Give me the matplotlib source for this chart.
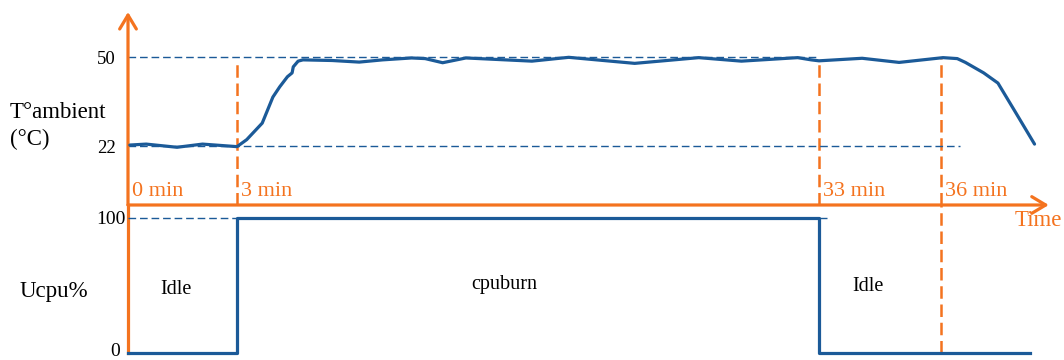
import numpy as np
import matplotlib.pyplot as plt

plt.rcParams['font.family'] = ['Liberation Serif', 'DejaVu Serif']

orange = '#f4731f'
blue = '#1b5a98'

# schematic time axis: the segments are not drawn to the same scale
t_knots = [-5, 0, 3, 33, 36, 45]
u_knots = [-181.7, 0, 109, 691, 813, 1179]


def fwd(t):
    return np.interp(t, t_knots, u_knots)


def inv(u):
    return np.interp(u, u_knots, t_knots)


# temperature (minutes, degC)
temp_t = [0.05, 0.5, 1.35, 2.05, 3.0, 3.5, 4.3, 4.85, 5.2, 5.6, 5.84, 5.9, 6.15,
          6.4, 7.9, 9.3, 10.5, 12.0, 12.7, 13.6, 14.8, 16.5, 18.2, 20.1, 23.5,
          26.8, 29.0, 31.9, 32.6, 33.0, 34.06, 34.97, 36.05, 36.4, 36.6, 37.05,
          37.4, 37.8, 38.3]
temp_c = [22.3, 22.6, 21.6, 22.6, 21.8, 24.0, 29.2, 37.4, 40.6, 43.8, 45.0, 46.9, 48.7,
          49.1, 48.9, 48.4, 49.1, 49.7, 49.5, 48.2, 49.7, 49.2, 48.7, 49.9, 48.0,
          49.8, 48.7, 49.8, 49.1, 48.8, 49.6, 48.3, 49.8, 49.5, 48.3, 45.0,
          41.8, 33.3, 22.6]

# cpu load (steps)
cpu_t = [0, 3, 33, 38.2]
cpu_u = [0, 100, 0, 0]

marks_t = [0, 3, 33, 36]
marks_lbl = ['0 min', '3 min', '33 min', '36 min']
t_levels = [22, 50]

W, H = 1064, 360
fig = plt.figure(figsize=(W / 100, H / 100), dpi=100)
ax_t = fig.add_axes([128 / W, 155 / H, 935 / W, 193 / H])
ax_c = fig.add_axes([128 / W, 2 / H, 935 / W, 153 / H])

for ax in (ax_t, ax_c):
    ax.set_xscale('function', functions=(fwd, inv))
    ax.set_xlim(0, 39)
    ax.set_xticks([])
    for s in ax.spines.values():
        s.set_visible(False)
    ax.patch.set_alpha(0)

ax_t.set_ylim(3.44, 64.16)
ax_c.set_ylim(-3.7, 109.6)

o_dash = (0, (5, 2.3))
b_dash = (0, (5.5, 2.8))

# temperature panel
ax_t.plot(temp_t, temp_c, color=blue, lw=2.3, solid_joinstyle='round',
          solid_capstyle='round', zorder=5)
ax_t.hlines(50, 0, 33.0, colors=blue, lw=1.0, linestyles=b_dash, zorder=3)
ax_t.hlines(22, 0, 36.47, colors=blue, lw=1.0, linestyles=b_dash, zorder=3)
for t in marks_t[1:]:
    top = 49.6 if t == 36 else 48.4
    ax_t.vlines(t, 3.44, top, colors=orange, lw=1.8, linestyles=o_dash, zorder=2)
ax_t.set_yticks(t_levels)
ax_t.set_yticklabels([str(v) for v in t_levels], fontsize=13.5)
ax_t.tick_params(axis='y', length=0, pad=9)

# time axis with arrows
arrow = dict(arrowstyle='->,head_length=0.5,head_width=0.3', color=orange,
             lw=2.3, mutation_scale=20, shrinkA=0, shrinkB=0)
ax_t.annotate('', xy=(38.65, 3.44), xytext=(0, 3.44), arrowprops=arrow,
              annotation_clip=False)
ax_t.annotate('', xy=(0, 64.16), xytext=(0, 3.44), arrowprops=arrow,
              annotation_clip=False)
for t, lbl in zip(marks_t, marks_lbl):
    ax_t.annotate(lbl, xy=(t, 3.44), xytext=(3, 3), textcoords='offset points',
                  color=orange, fontsize=16, ha='left', va='bottom',
                  annotation_clip=False)

# cpu panel
ax_c.plot([0, 0], [0, 109.6], color=orange, lw=2.3, clip_on=False, zorder=2)
ax_c.vlines(36, 0, 109.6, colors=orange, lw=1.8, linestyles=o_dash, zorder=2)
ax_c.hlines(100, 0, 33.2, colors=blue, lw=1.0, linestyles=b_dash, zorder=3)
ax_c.plot(cpu_t, cpu_u, drawstyle='steps-post', color=blue, lw=2.3, zorder=5,
          clip_on=False)
ax_c.set_yticks([100])
ax_c.set_yticklabels(['100'], fontsize=14)
ax_c.tick_params(axis='y', length=0, pad=2)
ax_c.annotate('0', xy=(0, 0), xytext=(-6, 1), textcoords='offset points',
              fontsize=14, ha='right', va='center', annotation_clip=False)

ax_c.text(1.32, 46.7, 'Idle', fontsize=14.5, ha='center', va='center')
ax_c.text(16.8, 50.4, 'cpuburn', fontsize=14.5, ha='center', va='center')
ax_c.text(34.2, 48.9, 'Idle', fontsize=14.5, ha='center', va='center')

fig.text(10 / W, 1 - 112 / H, 'T°ambient', fontsize=16.5, ha='left', va='center')
fig.text(10 / W, 1 - 139 / H, '(°C)', fontsize=16.5, ha='left', va='center')
fig.text(20 / W, 1 - 291 / H, 'Ucpu%', fontsize=16.5, ha='left', va='center')
fig.text(1015 / W, 1 - 221 / H, 'Time', fontsize=16.5, ha='left', va='center',
         color=orange)

fig.savefig('out.png', dpi=100)
